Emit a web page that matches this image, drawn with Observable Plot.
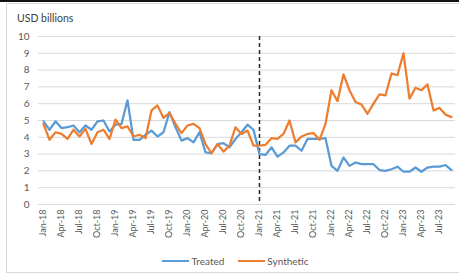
<!DOCTYPE html>
<html>
<head>
<meta charset="utf-8">
<script src="https://cdn.jsdelivr.net/npm/d3@7"></script>
<script src="https://cdn.jsdelivr.net/npm/@observablehq/plot@0.6"></script>
<style>
  html, body { margin: 0; padding: 0; background: #fff; }
  #wrap { position: relative; width: 459px; height: 274px; overflow: hidden; font-family: Lato, "Open Sans", sans-serif; }
  #topbar { position: absolute; left: 0; top: 0; width: 459px; height: 2px; background: #111; }
  #frame { position: absolute; left: 6px; top: 3px; width: 460px; height: 270px; border: 1px solid #d9d9d9; box-sizing: border-box; }
  #title { position: absolute; left: 17px; top: 12px; font-size: 10.5px; color: #404040; }
  #legend { position: absolute; left: 0; top: 255px; width: 459px; display: flex; justify-content: center; gap: 14px; font-size: 10px; color: #595959; padding-left: 12px; box-sizing: border-box; }
  .item { display: flex; align-items: center; gap: 2px; }
  .sw { display: inline-block; width: 27px; height: 2.5px; }
  #chart { position: absolute; left: 0; top: 0; }
</style>
</head>
<body>
<div id="wrap">
  <div id="topbar"></div>
  <div id="frame"></div>
  <div id="chart"></div>
  <div id="title">USD billions</div>
  <div id="legend"></div>
</div>
<script>
// Monthly categories Jan-18 .. Sep-23
const startMonth = new Date(Date.UTC(2018, 0, 1));
const endMonth = new Date(Date.UTC(2023, 9, 1)); // exclusive
const fmt = d3.utcFormat("%b-%y");
const months = d3.utcMonth.range(startMonth, endMonth).map(fmt);

const seriesNames = ["Treated", "Synthetic"];
const seriesColors = ["#5B9BD5", "#ED7D31"];

const treated = [
  4.95, 4.45, 4.95, 4.55, 4.6, 4.7, 4.3, 4.7, 4.45, 4.95, 5.0, 4.35,
  4.75, 4.8, 6.2, 3.85, 3.85, 4.15, 4.4, 4.05, 4.3, 5.5, 4.6, 3.8,
  3.95, 3.7, 4.3, 3.1, 3.05, 3.6, 3.65, 3.4, 3.9, 4.3, 4.75, 4.45,
  3.0, 2.95, 3.4, 2.85, 3.1, 3.5, 3.5, 3.2, 3.9, 3.9, 3.9, 3.95,
  2.3, 2.0, 2.8, 2.3, 2.5, 2.4, 2.4, 2.4, 2.05, 2.0, 2.1, 2.25,
  1.95, 1.95, 2.2, 1.95, 2.2, 2.25, 2.25, 2.35, 2.05
];

const synthetic = [
  4.8, 3.85, 4.3, 4.2, 3.9, 4.45, 4.05, 4.5, 3.6, 4.3, 4.45, 3.9,
  5.05, 4.55, 4.65, 4.05, 4.15, 3.95, 5.6, 5.9, 5.15, 5.45, 4.8, 4.25,
  4.7, 4.8, 4.55, 3.6, 3.05, 3.6, 3.15, 3.5, 4.6, 4.2, 4.4, 3.5,
  3.5, 3.55, 3.95, 3.9, 4.2, 5.0, 3.7, 4.05, 4.2, 4.25, 3.85, 4.8,
  6.8, 6.15, 7.75, 6.8, 6.1, 5.95, 5.4, 6.0, 6.55, 6.5, 7.8, 7.7,
  9.0, 6.3, 6.95, 6.8, 7.15, 5.6, 5.75, 5.35, 5.2
];

const treatmentStart = "Jan-21";
const yTicks = [0, 1, 2, 3, 4, 5, 6, 7, 8, 9, 10];
const xTicks = months.filter((d, i) => i % 3 === 0);

const data = [];
months.forEach((m, i) => {
  data.push({month: m, value: treated[i], series: seriesNames[0]});
});
months.forEach((m, i) => {
  data.push({month: m, value: synthetic[i], series: seriesNames[1]});
});

const chart = Plot.plot({
  width: 459,
  height: 274,
  marginLeft: 38,
  marginRight: 4,
  marginTop: 36,
  marginBottom: 70,
  style: {fontFamily: "Lato, 'Open Sans', sans-serif", fontSize: "10px", color: "#595959", background: "transparent"},
  x: {type: "point", domain: months, padding: 0.5, label: null},
  y: {domain: [0, 10], label: null},
  color: {domain: seriesNames, range: seriesColors},
  marks: [
    Plot.gridY(yTicks, {stroke: "#d9d9d9", strokeOpacity: 1, strokeWidth: 1}),
    Plot.axisY(yTicks, {tickSize: 0, tickPadding: 9, fontSize: 10, fill: "#595959", label: null}),
    Plot.axisX(xTicks, {tickSize: 0, tickPadding: 5, tickRotate: -90, fontSize: 9, fill: "#595959", label: null}),
    Plot.ruleX([treatmentStart], {stroke: "#262626", strokeWidth: 1.5, strokeDasharray: "4,3"}),
    Plot.line(data, {x: "month", y: "value", z: "series", stroke: "series", strokeWidth: 2.25, strokeLinejoin: "round", strokeLinecap: "round"})
  ]
});
document.getElementById("chart").appendChild(chart);

const legend = document.getElementById("legend");
seriesNames.forEach((name, i) => {
  const item = document.createElement("span");
  item.className = "item";
  const sw = document.createElement("span");
  sw.className = "sw";
  sw.style.background = seriesColors[i];
  const t = document.createElement("span");
  t.textContent = name;
  item.appendChild(sw);
  item.appendChild(t);
  legend.appendChild(item);
});
</script>
</body>
</html>
